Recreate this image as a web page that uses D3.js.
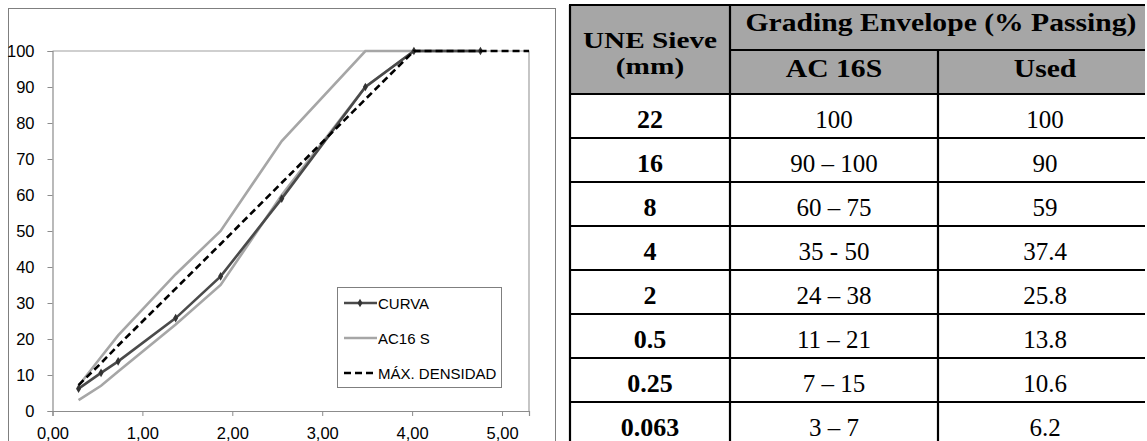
<!DOCTYPE html>
<html>
<head>
<meta charset="utf-8">
<script src="https://cdn.jsdelivr.net/npm/d3@7"></script>
<style>
  html, body { margin: 0; padding: 0; background: #fff; }
  svg { display: block; }
</style>
</head>
<body>
<svg id="chart" width="1147" height="441"></svg>
<script>
// ---------- DATA ----------
// Sieve sizes (mm) and their positions on the chart's x axis (sieve^0.45)
const sieves      = [0.063, 0.25, 0.5, 2, 4, 8, 16, 22, 32, 40];
const xPositions  = [0.29, 0.54, 0.73, 1.37, 1.87, 2.55, 3.48, 4.02, 4.76, 5.30];
const curva       = [6.2, 10.6, 13.8, 25.8, 37.4, 59, 90, 100, 100];
const ac16Lower   = [3, 7, 11, 24, 35, 60, 90, 100, 100];
const ac16Upper   = [7, 15, 21, 38, 50, 75, 100, 100, 100];
const maxDensidad = [7.2, 13.3, 18.2, 34, 46.4, 63.4, 86.6, 100, 100, 100];
const xTicks      = [0, 1, 2, 3, 4, 5];
const yTicks      = [0, 10, 20, 30, 40, 50, 60, 70, 80, 90, 100];
const legendNames = ["CURVA", "AC16 S", "MÁX. DENSIDAD"];

// Table
const tableSieves  = ["22", "16", "8", "4", "2", "0.5", "0.25", "0.063"];
const tableAC16S   = ["100", "90 – 100", "60 – 75", "35 - 50", "24 – 38", "11 – 21", "7 – 15", "3 – 7"];
const tableUsed    = ["100", "90", "59", "37.4", "25.8", "13.8", "10.6", "6.2"];

// ---------- CHART ----------
const svg = d3.select("#chart");
const x = d3.scaleLinear().domain([0, 5.3]).range([52.5, 529]);
const y = d3.scaleLinear().domain([0, 100]).range([411, 51]);

// outer chart frame
svg.append("rect").attr("x", 8.5).attr("y", 8.5).attr("width", 547).attr("height", 445)
  .attr("fill", "none").attr("stroke", "#7f7f7f").attr("stroke-width", 1);

// plot area top/right border
svg.append("path")
  .attr("d", `M${x(0)},${y(100)}H${x(5.3)}V${y(0)}`)
  .attr("fill", "none").attr("stroke", "#a0a0a0").attr("stroke-width", 1.2);

const axisFont = "'Liberation Sans', Arial, sans-serif";

const gx = svg.append("g").attr("transform", `translate(0,${y(0)})`)
  .call(d3.axisBottom(x).tickValues(xTicks).tickSize(5).tickPadding(7)
        .tickFormat(d => d3.format(".2f")(d).replace(".", ",")));
gx.select(".domain").attr("stroke", "#8c8c8c").attr("stroke-width", 1.2);
gx.selectAll(".tick line").attr("stroke", "#8c8c8c");
gx.selectAll("text").attr("font-family", axisFont).attr("font-size", 16.5).attr("fill", "#000")
  .attr("y", 28).attr("dy", null);

const gy = svg.append("g").attr("transform", `translate(${x(0)},0)`)
  .call(d3.axisLeft(y).tickValues(yTicks).tickSize(5).tickPadding(13));
gy.select(".domain").attr("stroke", "#8c8c8c").attr("stroke-width", 1.2);
gy.selectAll(".tick line").attr("stroke", "#8c8c8c");
gy.selectAll("text").attr("font-family", axisFont).attr("font-size", 16.5).attr("fill", "#000");

const mk = vals => vals.map((v, i) => [xPositions[i], v]);
const line = d3.line().x(d => x(d[0])).y(d => y(d[1]));

const g = svg.append("g");
// AC16 S envelope
g.append("path").datum(mk(ac16Lower)).attr("d", line)
  .attr("fill", "none").attr("stroke", "#a6a6a6").attr("stroke-width", 2.6);
g.append("path").datum(mk(ac16Upper)).attr("d", line)
  .attr("fill", "none").attr("stroke", "#a6a6a6").attr("stroke-width", 2.6);
// CURVA
g.append("path").datum(mk(curva)).attr("d", line)
  .attr("fill", "none").attr("stroke", "#4a4a4a").attr("stroke-width", 2.6);
g.selectAll(".mk").data(mk(curva)).enter().append("path")
  .attr("d", d3.symbol().type(d3.symbolDiamond).size(22))
  .attr("transform", d => `translate(${x(d[0])},${y(d[1])})`)
  .attr("fill", "#333");
// MAX DENSIDAD
g.append("path").datum(mk(maxDensidad)).attr("d", line)
  .attr("fill", "none").attr("stroke", "#000").attr("stroke-width", 2.6)
  .attr("stroke-dasharray", "7,4");

// legend
const lg = svg.append("g");
lg.append("rect").attr("x", 337.5).attr("y", 287.5).attr("width", 164).attr("height", 100)
  .attr("fill", "#fff").attr("stroke", "#7f7f7f").attr("stroke-width", 1);
const legendStyles = [
  {stroke: "#4a4a4a", dash: null, marker: true},
  {stroke: "#a6a6a6", dash: null, marker: false},
  {stroke: "#000", dash: "7,4", marker: false}
];
legendNames.forEach((name, i) => {
  const yy = 303 + i * 35;
  const s = legendStyles[i];
  lg.append("line").attr("x1", 344).attr("x2", 377).attr("y1", yy).attr("y2", yy)
    .attr("stroke", s.stroke).attr("stroke-width", 2.6)
    .attr("stroke-dasharray", s.dash);
  if (s.marker) {
    lg.append("path").attr("d", d3.symbol().type(d3.symbolDiamond).size(22))
      .attr("transform", `translate(360,${yy})`).attr("fill", "#333");
  }
  lg.append("text").attr("x", 378).attr("y", yy + 5.5).text(name)
    .attr("font-family", axisFont).attr("font-size", 15).attr("fill", "#000");
});

// ---------- TABLE ----------
const serif = "'Liberation Serif', 'Times New Roman', serif";
const T = svg.append("g");
const clip = svg.append("defs").append("clipPath").attr("id", "tclip");
clip.append("rect").attr("x", 0).attr("y", 0).attr("width", 1145).attr("height", 441);
T.attr("clip-path", "url(#tclip)");

const tx0 = 570, tx1 = 730, tx2 = 938, tx3 = 1152;
const tTop = 5, tSub = 50, tHead = 94, rowH = 44;
const rowY = d3.scaleBand().domain(d3.range(tableSieves.length))
  .range([tHead, tHead + rowH * tableSieves.length]).padding(0);

T.append("rect").attr("x", tx0).attr("y", tTop).attr("width", tx3 - tx0).attr("height", tHead - tTop)
  .attr("fill", "#a6a6a6");

const ln = (x1, y1, x2, y2) => T.append("line").attr("x1", x1).attr("y1", y1).attr("x2", x2).attr("y2", y2)
  .attr("stroke", "#000").attr("stroke-width", 2.2);
ln(tx0 - 1, tTop, tx3, tTop);
ln(tx1, tSub, tx3, tSub);
ln(tx0 - 1, tHead, tx3, tHead);
tableSieves.forEach((_, i) => ln(tx0 - 1, rowY(i) + rowH, tx3, rowY(i) + rowH));
ln(tx0, tTop, tx0, 460);
ln(tx1, tTop, tx1, 460);
ln(tx2, tSub, tx2, 460);
ln(tx3, tTop, tx3, 460);

const txt = (xx, yy, s, bold, size, sx) => T.append("text")
  .attr("transform", `translate(${xx},${yy}) scale(${sx || 1},1)`).text(s)
  .attr("text-anchor", "middle").attr("font-family", serif).attr("font-size", size)
  .attr("font-weight", bold ? "bold" : "normal").attr("fill", "#000");

const HS = 1.14;
txt((tx0 + tx1) / 2, 48, "UNE Sieve", true, 24, 1.22);
txt((tx0 + tx1) / 2, 74, "(mm)", true, 24, 1.22);
txt((tx1 + tx3) / 2, 31, "Grading Envelope (% Passing)", true, 26, HS);
txt((tx1 + tx2) / 2, 77, "AC 16S", true, 26, HS);
txt((tx2 + tx3) / 2, 77, "Used", true, 26, HS);

tableSieves.forEach((s, i) => {
  const yy = rowY(i) + 34;
  txt((tx0 + tx1) / 2, yy, s, true, 26, 1);
  txt((tx1 + tx2) / 2, yy, tableAC16S[i], false, 25, 1);
  txt((tx2 + tx3) / 2, yy, tableUsed[i], false, 25, 1);
});
</script>
</body>
</html>
